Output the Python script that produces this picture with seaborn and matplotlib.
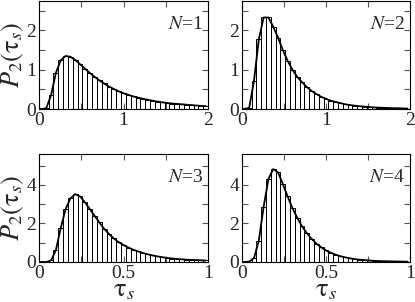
import numpy as np
import pandas as pd
import matplotlib
matplotlib.use("Agg")
import matplotlib.pyplot as plt
from matplotlib.ticker import MultipleLocator, FuncFormatter
import seaborn as sns

# ---- data ----
panel_labels = ["N=1", "N=2", "N=3", "N=4"]
n_bins = 35
x_max = [2.0, 2.0, 1.0, 1.0]
y_max = [2.75, 2.75, 5.6, 5.6]

hist_n1 = [0.0, 0.02, 0.35, 0.92, 1.24, 1.35, 1.33, 1.25, 1.14, 1.03, 0.92, 0.82,
           0.73, 0.65, 0.57, 0.51, 0.45, 0.40, 0.36, 0.32, 0.29, 0.26, 0.235, 0.21,
           0.19, 0.17, 0.155, 0.14, 0.13, 0.12, 0.11, 0.10, 0.09, 0.08, 0.075]
hist_n2 = [0.0, 0.03, 0.72, 1.77, 2.33, 2.33, 2.10, 1.82, 1.50, 1.23, 1.00, 0.82,
           0.68, 0.56, 0.46, 0.38, 0.31, 0.26, 0.21, 0.18, 0.15, 0.12, 0.10, 0.085,
           0.07, 0.06, 0.05, 0.04, 0.035, 0.03, 0.025, 0.02, 0.02, 0.015, 0.01]
hist_n3 = [0.0, 0.0, 0.08, 0.62, 1.75, 2.74, 3.30, 3.52, 3.40, 3.10, 2.75, 2.40,
           2.05, 1.72, 1.45, 1.22, 1.03, 0.88, 0.75, 0.64, 0.55, 0.47, 0.40, 0.34,
           0.29, 0.25, 0.21, 0.18, 0.16, 0.14, 0.12, 0.11, 0.10, 0.09, 0.08]
hist_n4 = [0.0, 0.02, 0.20, 1.10, 2.85, 4.30, 4.82, 4.65, 4.05, 3.40, 2.80, 2.30,
           1.85, 1.50, 1.20, 0.95, 0.76, 0.60, 0.48, 0.38, 0.30, 0.24, 0.19, 0.15,
           0.12, 0.10, 0.08, 0.06, 0.05, 0.04, 0.035, 0.03, 0.025, 0.02, 0.015]
hists = [hist_n1, hist_n2, hist_n3, hist_n4]

x_major = [1.0, 1.0, 0.5, 0.5]
x_minor = [0.5, 0.5, 0.25, 0.25]
y_major = [1.0, 1.0, 2.0, 2.0]
y_minor = [0.5, 0.5, 1.0, 1.0]

# ---- style ----
sns.set_theme(style="ticks")
plt.rcParams["font.family"] = ["Liberation Serif", "DejaVu Serif"]
plt.rcParams["mathtext.fontset"] = "stix"

W, H = 415, 302
fig = plt.figure(figsize=(W / 100, H / 100), dpi=100)

rects = [
    (39, 1, 208, 109),
    (242, 1, 410, 109),
    (39, 154, 208, 262),
    (242, 154, 410, 262),
]

fmt = FuncFormatter(lambda v, p: f"{v:g}")

for i, (l, t, r, b) in enumerate(rects):
    ax = fig.add_axes([l / W, 1 - b / H, (r - l) / W, (b - t) / H])
    edges = np.linspace(0, x_max[i], n_bins + 1)
    centers = 0.5 * (edges[:-1] + edges[1:])
    df = pd.DataFrame({"tau": centers, "p": hists[i]})
    sns.histplot(data=df, x="tau", weights="p", bins=n_bins,
                 binrange=(0, x_max[i]), fill=False,
                 element="bars", color="black", linewidth=0.7, ax=ax)
    curve = pd.DataFrame({"tau": np.r_[0.0, centers], "p": np.r_[0.0, hists[i]]})
    sns.lineplot(data=curve, x="tau", y="p", color="black", linewidth=1.3, ax=ax)

    ax.set_xlim(0, x_max[i])
    ax.set_ylim(0, y_max[i])
    ax.xaxis.set_major_locator(MultipleLocator(x_major[i]))
    ax.xaxis.set_minor_locator(MultipleLocator(x_minor[i]))
    ax.yaxis.set_major_locator(MultipleLocator(y_major[i]))
    ax.yaxis.set_minor_locator(MultipleLocator(y_minor[i]))
    ax.xaxis.set_major_formatter(fmt)
    ax.yaxis.set_major_formatter(fmt)
    ax.tick_params(which="both", direction="in", top=True, right=True,
                   labelsize=14, pad=2, color="#555555", width=0.8)
    ax.tick_params(which="major", length=4.5)
    ax.tick_params(which="minor", length=4.5)
    for s in ax.spines.values():
        s.set_linewidth(0.8)
        s.set_color("black")
    ax.set_xlabel("")
    ax.set_ylabel("")
    if i in (0, 2):
        ax.set_ylabel(r"$P_2(\mathrm{\tau}_s)$", fontsize=19, labelpad=0)
    if i in (2, 3):
        ax.set_xlabel(r"$\mathrm{\tau}_s$", fontsize=19, labelpad=-1)
    name, val = panel_labels[i].split("=")
    ax.text(0.97, 0.86, "$N$=" + val, transform=ax.transAxes,
            ha="right", va="top", fontsize=14)

fig.savefig("out.png", dpi=100)
